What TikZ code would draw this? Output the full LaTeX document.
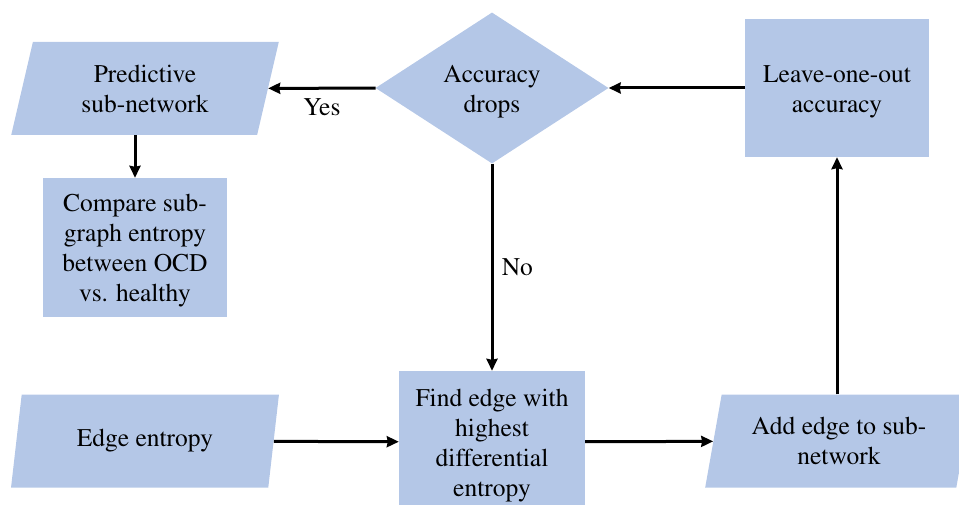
\documentclass[tikz,border=0pt]{standalone}
\usepackage[T1]{fontenc}
\renewcommand{\rmdefault}{ptm}
\usetikzlibrary{shapes.geometric,arrows.meta}
\definecolor{boxblue}{RGB}{180,199,231}
\newcommand{\topstrut}{\rule{0pt}{24pt}}

\begin{document}
\begin{tikzpicture}[x=1pt,y=-1pt,
    font=\rmfamily\fontsize{25.5}{30}\selectfont,
    proc/.style={fill=boxblue, align=center, inner sep=0pt},
    io/.style={trapezium, trapezium left angle=75.5, trapezium right angle=104.5,
      trapezium stretches=true, fill=boxblue, align=center,
      minimum width=268pt, minimum height=93pt, inner sep=0pt},
    decide/.style={diamond, fill=boxblue, align=center,
      minimum width=233pt, minimum height=151pt, inner sep=-8pt},
    flow/.style={-{Stealth[length=12pt,width=11pt,inset=1pt]}, line width=3pt}]
        \useasboundingbox (0,0) rectangle (959,505);

        % top row
        \node[io] (pred) at (145,88.5) {Predictive\\sub-network};
        \node[decide] (drops) at (492,88) {\topstrut Accuracy\\drops};
        \node[proc, minimum width=184pt, minimum height=138pt] (loo) at (837,88) {\topstrut Leave-one-out\\accuracy};
        \node[proc, minimum width=184pt, minimum height=139pt] (comp) at (135,247.5)
          {\topstrut Compare sub-\\graph entropy\\between OCD\\vs. healthy};

        % bottom row
        \node[io] (ent) at (145,441) {Edge entropy};
        \node[proc, minimum width=186pt, minimum height=142pt] (find) at (492,442)
          {\topstrut Find edge with\\highest\\differential\\entropy};
        \node[io] (add) at (839,441) {Add edge to sub-\\network};

        \draw[flow] (drops) -- node[below=6pt] (yes) {Yes} (pred);
        \draw[flow] (loo) -- (drops);
        \draw[flow] (pred.south -| comp.north) -- (comp);
        \draw[flow] (drops) -- node[right=5pt] (no) {No} (find);
        \draw[flow] (ent) -- (find);
        \draw[flow] (find) -- (add);
        \draw[flow] (add.north -| loo.south) -- (loo);
      \end{tikzpicture}
\end{document}
